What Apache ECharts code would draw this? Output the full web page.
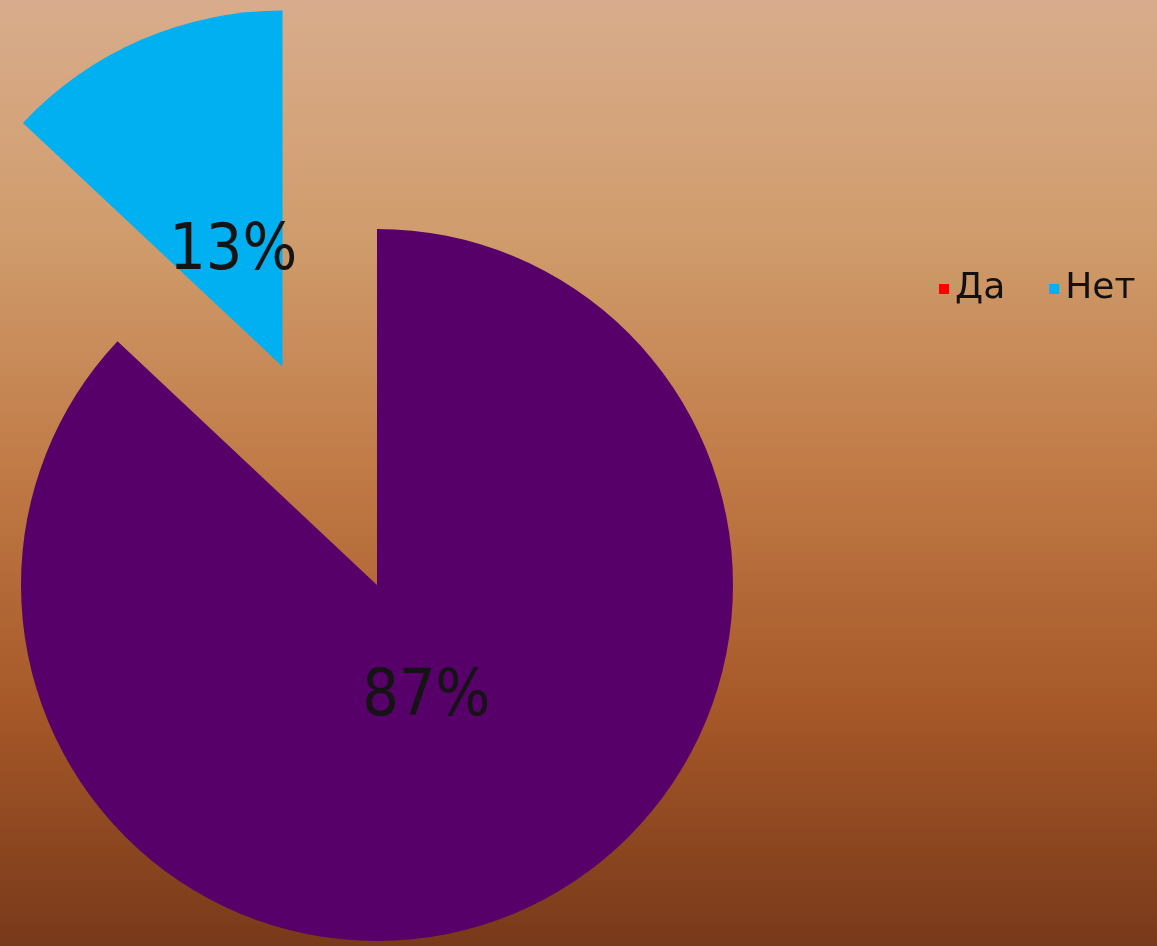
<!DOCTYPE html>
<html>
<head>
<meta charset="utf-8">
<script src="https://cdn.jsdelivr.net/npm/echarts@6/dist/echarts.min.js"></script>
<style>
  html, body { margin: 0; padding: 0; }
  #chart { width: 1157px; height: 946px; }
</style>
</head>
<body>
<div id="chart"></div>
<script>
// Answers to the survey question
const categories = ['Да', 'Нет'];
const values = [87, 13];
const sliceColors = ['#58006a', '#00b0f0'];
const legendColors = ['#ff0000', '#00b0f0'];

const RADIUS = 356;
const CENTER = [377, 585];
// pull the inside labels a bit toward the slice tip
const LABEL_PULL = 0.16 * RADIUS;

const total = values.reduce((a, b) => a + b, 0);
const midAngles = [];
let cum = 0;
values.forEach(v => {
  midAngles.push(2 * Math.PI * (cum + v / 2) / total);
  cum += v;
});

const chart = echarts.init(document.getElementById('chart'));
chart.setOption({
  animation: false,
  backgroundColor: {
    type: 'linear', x: 0, y: 0, x2: 0, y2: 1,
    colorStops: [
      { offset: 0, color: '#d8ac8c' },
      { offset: 0.25, color: '#d09c6c' },
      { offset: 0.5, color: '#c07a46' },
      { offset: 0.75, color: '#a65828' },
      { offset: 1, color: '#78391a' }
    ]
  },
  legend: {
    left: 934,
    top: 266,
    orient: 'horizontal',
    icon: 'rect',
    itemWidth: 10,
    itemHeight: 10,
    itemGap: 44,
    selectedMode: false,
    textStyle: {
      fontFamily: '"DejaVu Sans", sans-serif',
      fontSize: 36,
      color: '#111',
      padding: [0, 0, 0, 1]
    },
    data: categories.map((c, i) => ({ name: c, itemStyle: { color: legendColors[i] } }))
  },
  series: [{
    type: 'pie',
    center: CENTER,
    radius: [0, RADIUS],
    startAngle: 90,
    clockwise: true,
    selectedMode: 'single',
    selectedOffset: 238,
    emphasis: { disabled: true },
    label: {
      show: true,
      position: 'inside',
      formatter: '{d}%',
      fontFamily: '"Liberation Sans Narrow", "DejaVu Sans Condensed", sans-serif',
      fontSize: 64,
      color: '#141414'
    },
    labelLayout: function (params) {
      const t = midAngles[params.dataIndex];
      return { dx: -Math.sin(t) * LABEL_PULL, dy: Math.cos(t) * LABEL_PULL };
    },
    itemStyle: { borderWidth: 0 },
    data: categories.map((c, i) => ({
      name: c,
      value: values[i],
      selected: c === 'Нет',
      itemStyle: { color: sliceColors[i] }
    }))
  }]
});
</script>
</body>
</html>
